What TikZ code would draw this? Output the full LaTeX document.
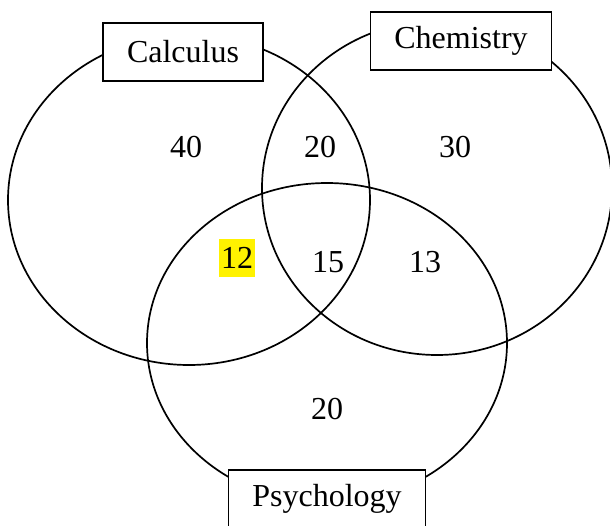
\documentclass[tikz,border=0pt]{standalone}
\usepackage{fontspec}
\setmainfont{Liberation Serif}
\usetikzlibrary{shapes.geometric}
\tikzset{
  setring/.style={draw=black, ellipse, line width=1.7pt, inner sep=0pt},
  setlabel/.style={draw=black, fill=white, line width=1.6pt, minimum height=58pt, inner xsep=24pt, inner ysep=0pt},
  count/.style={inner sep=0pt}
}
\begin{document}
\begin{tikzpicture}[x=1pt,y=-1pt,font=\fontsize{32}{38}\selectfont]
                \useasboundingbox (0,0) rectangle (610,525);
                %%%  The three sets
                \node[setring, minimum width=362pt, minimum height=330pt] (calc) at (189,200) {};
                \node[setring, minimum width=350pt, minimum height=334pt] (chem) at (437,188) {};
                \node[setring, minimum width=360pt, minimum height=320pt] (psych) at (327,343) {};
                %%% Name boxes on top of the rings
                \node[setlabel] (calcname) at (183,52) {Calculus};
                \node[setlabel] (chemname) at (461,41) {Chemistry};
                \node[setlabel] (psychname) at (327,499) {Psychology};
                %%% Counts in each region
                \node[count] (onlycalc) at (186,147) {40};
                \node[count] (calcchem) at (320,147) {20};
                \node[count] (onlychem) at (455,147) {30};
                \node[count, fill=yellow, minimum width=36pt, minimum height=38pt] (calcpsych) at (237,258) {12};
                \node[count] (allthree) at (328,262) {15};
                \node[count] (chempsych) at (425,262) {13};
                \node[count] (onlypsych) at (327,409) {20};
                % Note: boxes are filled white so they hide the rings behind them.
\end{tikzpicture}
\end{document}
